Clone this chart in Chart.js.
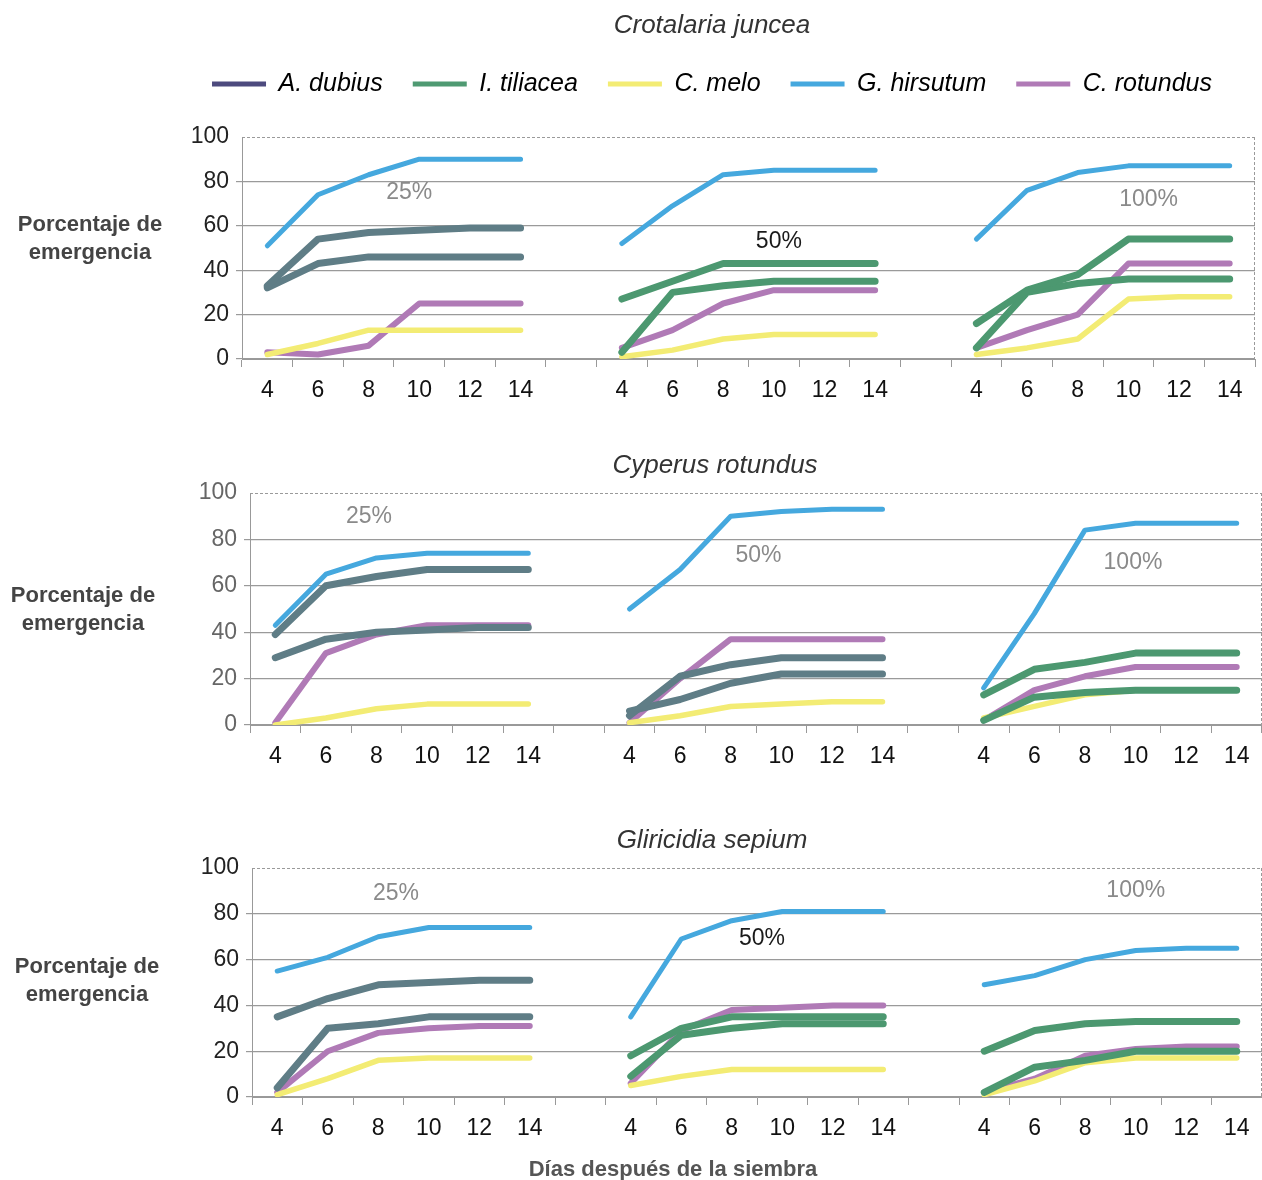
<!DOCTYPE html>
<html>
<head>
<meta charset="utf-8">
<script src="https://cdn.jsdelivr.net/npm/chart.js@4.4.1/dist/chart.umd.min.js"></script>
<style>
  html, body { margin: 0; padding: 0; background: #fff; }
  #wrap { position: relative; width: 1262px; height: 1180px; }
  .panel { position: absolute; left: 0; width: 1262px; }
</style>
</head>
<body>
<div id="wrap">
  <div class="panel" style="top:0;height:420px"><canvas id="c1"></canvas></div>
  <div class="panel" style="top:420px;height:366px"><canvas id="c2"></canvas></div>
  <div class="panel" style="top:786px;height:394px"><canvas id="c3"></canvas></div>
</div>
<script>
// eje x: 4..14 dias para 25%, 50% y 100%, con un hueco entre grupos
const days = ['4', '6', '8', '10', '12', '14'];
const dayLabels = [...days, '', ...days, '', ...days];
const groupTags = ['25%', '50%', '100%'];
const species = ['A. dubius', 'I. tiliacea', 'C. melo', 'G. hirsutum', 'C. rotundus'];

// Crotalaria juncea
const crotDubius   = [33, 54, 57, 58, 59, 59, null, 27, 35, 43, 43, 43, 43, null, 16, 31, 38, 54, 54, 54];
const crotTiliacea = [32, 43, 46, 46, 46, 46, null, 3, 30, 33, 35, 35, 35, null, 5, 30, 34, 36, 36, 36];
const crotMelo     = [2, 7, 13, 13, 13, 13, null, 1, 4, 9, 11, 11, 11, null, 2, 5, 9, 27, 28, 28];
const crotHirsutum = [51, 74, 83, 90, 90, 90, null, 52, 69, 83, 85, 85, 85, null, 54, 76, 84, 87, 87, 87];
const crotRotundus = [3, 2, 6, 25, 25, 25, null, 5, 13, 25, 31, 31, 31, null, 5, 13, 20, 43, 43, 43];

// Cyperus rotundus
const cypDubius   = [39, 60, 64, 67, 67, 67, null, 4, 21, 26, 29, 29, 29, null, 13, 24, 27, 31, 31, 31];
const cypTiliacea = [29, 37, 40, 41, 42, 42, null, 6, 11, 18, 22, 22, 22, null, 2, 12, 14, 15, 15, 15];
const cypMelo     = [0, 3, 7, 9, 9, 9, null, 1, 4, 8, 9, 10, 10, null, 3, 8, 13, 15, 15, 15];
const cypHirsutum = [43, 65, 72, 74, 74, 74, null, 50, 67, 90, 92, 93, 93, null, 16, 48, 84, 87, 87, 87];
const cypRotundus = [1, 31, 39, 43, 43, 43, null, 1, 20, 37, 37, 37, 37, null, 2, 15, 21, 25, 25, 25];

// Gliricidia sepium
const gliDubius   = [35, 43, 49, 50, 51, 51, null, 18, 30, 35, 35, 35, 35, null, 20, 29, 32, 33, 33, 33];
const gliTiliacea = [4, 30, 32, 35, 35, 35, null, 9, 27, 30, 32, 32, 32, null, 2, 13, 16, 20, 20, 20];
const gliMelo     = [1, 8, 16, 17, 17, 17, null, 5, 9, 12, 12, 12, 12, null, 1, 7, 15, 17, 17, 17];
const gliHirsutum = [55, 61, 70, 74, 74, 74, null, 35, 69, 77, 81, 81, 81, null, 49, 53, 60, 64, 65, 65];
const gliRotundus = [2, 20, 28, 30, 31, 31, null, 6, 29, 38, 39, 40, 40, null, 2, 8, 18, 21, 22, 22];

// colores
const legendColors = ['#4d4a7e', '#4f9a72', '#f3ec74', '#45a8de', '#b07ab6'];
const slate = '#5f7d86';
const green = '#4c9870';
const lineWidths = [7, 7, 5.5, 5, 6];
const FONT = '"Liberation Sans", Arial, sans-serif';

const panels = [
  {
    id: 'c1', title: 'Crotalaria juncea', legend: true,
    series: [crotDubius, crotTiliacea, crotMelo, crotHirsutum, crotRotundus],
    pair: [slate, green, green],
    padLeft: 169, padRight: 7, yWidth: 73, xHeight: 61, titlePad: { top: 10.4, bottom: 0 },
    tickColor: '#222', ylab: { x: 90, dy: -9 },
    tags: [{ x: 2.8, y: 75, color: '#8a8a8a' }, { x: 10.1, y: 53, color: '#1a1a1a' }, { x: 17.4, y: 72, color: '#8a8a8a' }]
  },
  {
    id: 'c2', title: 'Cyperus rotundus', legend: false,
    series: [cypDubius, cypTiliacea, cypMelo, cypHirsutum, cypRotundus],
    pair: [slate, slate, green],
    padLeft: 168, padRight: 0, yWidth: 82, xHeight: 61, titlePad: { top: 30.4, bottom: 11.4 },
    tickColor: '#666', ylab: { x: 83, dy: 1 },
    tags: [{ x: 1.85, y: 90, color: '#8a8a8a' }, { x: 9.55, y: 73, color: '#8a8a8a' }, { x: 16.95, y: 70, color: '#8a8a8a' }]
  },
  {
    id: 'c3', title: 'Gliricidia sepium', legend: false, xTitle: 'Días después de la siembra',
    series: [gliDubius, gliTiliacea, gliMelo, gliHirsutum, gliRotundus],
    pair: [slate, green, green],
    padLeft: 162, padRight: 0, yWidth: 90, xHeight: 83, titlePad: { top: 39.4, bottom: 11.4 },
    tickColor: '#222', ylab: { x: 87, dy: -2 },
    tags: [{ x: 2.35, y: 89, color: '#8a8a8a' }, { x: 9.6, y: 69, color: '#1a1a1a' }, { x: 17, y: 90, color: '#8a8a8a' }]
  }
];

const decor = {
  id: 'decor',
  beforeDatasetsDraw(chart, args, opts) {
    const { ctx, chartArea: a, scales: { x, y } } = chart;
    ctx.save();
    // linea superior punteada y borde derecho
    ctx.strokeStyle = '#9a9a9a';
    ctx.lineWidth = 1;
    ctx.setLineDash([3, 2]);
    ctx.beginPath();
    ctx.moveTo(a.left, y.getPixelForValue(100) + 0.5);
    ctx.lineTo(a.right, y.getPixelForValue(100) + 0.5);
    ctx.moveTo(a.right - 0.5, a.top);
    ctx.lineTo(a.right - 0.5, a.bottom);
    ctx.stroke();
    ctx.setLineDash([]);
    // etiquetas de porcentaje
    ctx.font = '23px ' + FONT;
    ctx.textAlign = 'center';
    ctx.textBaseline = 'middle';
    opts.tags.forEach((t, i) => {
      ctx.fillStyle = t.color;
      ctx.fillText(groupTags[i], x.getPixelForValue(t.x), y.getPixelForValue(t.y));
    });
    ctx.restore();
  },
  afterDraw(chart, args, opts) {
    const { ctx, chartArea: a } = chart;
    ctx.save();
    ctx.fillStyle = '#444';
    ctx.font = 'bold 22px ' + FONT;
    ctx.textAlign = 'center';
    ctx.textBaseline = 'middle';
    const cy = (a.top + a.bottom) / 2 + opts.ylab.dy;
    ctx.fillText('Porcentaje de', opts.ylab.x, cy - 14);
    ctx.fillText('emergencia', opts.ylab.x, cy + 14);
    if (opts.xTitle) {
      ctx.fillStyle = '#555';
      ctx.fillText(opts.xTitle, 673, a.bottom + 73);
    }
    ctx.restore();
  }
};

panels.forEach(p => {
  const datasets = p.series.map((data, i) => {
    const ds = {
      label: species[i],
      data: data,
      borderColor: legendColors[i],
      backgroundColor: legendColors[i],
      borderWidth: lineWidths[i],
      borderCapStyle: 'round',
      borderJoinStyle: 'round',
      pointRadius: 0,
      tension: 0,
      spanGaps: false
    };
    if (i < 2) {
      ds.borderColor = green;
      ds.segment = { borderColor: c => p.pair[Math.floor(c.p0DataIndex / 7)] };
    }
    return ds;
  });

  new Chart(document.getElementById(p.id), {
    type: 'line',
    data: { labels: dayLabels, datasets },
    plugins: [decor],
    options: {
      responsive: true,
      maintainAspectRatio: false,
      animation: false,
      events: [],
      layout: { padding: { left: p.padLeft, right: p.padRight, top: 0, bottom: 0 } },
      plugins: {
        decor: { tags: p.tags, ylab: p.ylab, xTitle: p.xTitle },
        tooltip: { enabled: false },
        title: {
          display: true,
          text: p.title,
          color: '#333',
          font: { family: FONT, size: 26, style: 'italic', weight: 'normal' },
          padding: p.titlePad
        },
        subtitle: {
          display: p.legend,
          text: ' ',
          position: 'top',
          weight: 100,
          font: { size: 10, lineHeight: 1 },
          padding: { top: 20.4, bottom: 0 }
        },
        legend: {
          display: p.legend,
          position: 'top',
          labels: {
            boxWidth: 54,
            boxHeight: 5,
            padding: 30,
            color: '#222',
            font: { family: FONT, size: 25, style: 'italic' },
            generateLabels: () => species.map((name, i) => ({
              text: name, fillStyle: legendColors[i], strokeStyle: legendColors[i],
              lineWidth: 0, hidden: false, datasetIndex: i
            }))
          }
        }
      },
      scales: {
        x: {
          type: 'category',
          offset: true,
          afterFit: s => { s.height = p.xHeight; },
          grid: { offset: true, drawOnChartArea: false, drawTicks: true, tickLength: 8, color: '#999' },
          border: { color: '#999' },
          ticks: {
            autoSkip: false, maxRotation: 0, padding: 10, color: '#111',
            font: { family: FONT, size: 23 }
          }
        },
        y: {
          min: 0, max: 100,
          afterFit: s => { s.width = p.yWidth; },
          grid: {
            color: c => c.tick && c.tick.value === 100 ? 'rgba(0,0,0,0)' : '#9a9a9a',
            lineWidth: 1.2, drawTicks: true, tickLength: 6
          },
          border: { color: '#999' },
          ticks: {
            stepSize: 20, padding: 7, color: p.tickColor,
            font: { family: FONT, size: 23 }
          }
        }
      }
    }
  });
});
</script>
</body>
</html>
